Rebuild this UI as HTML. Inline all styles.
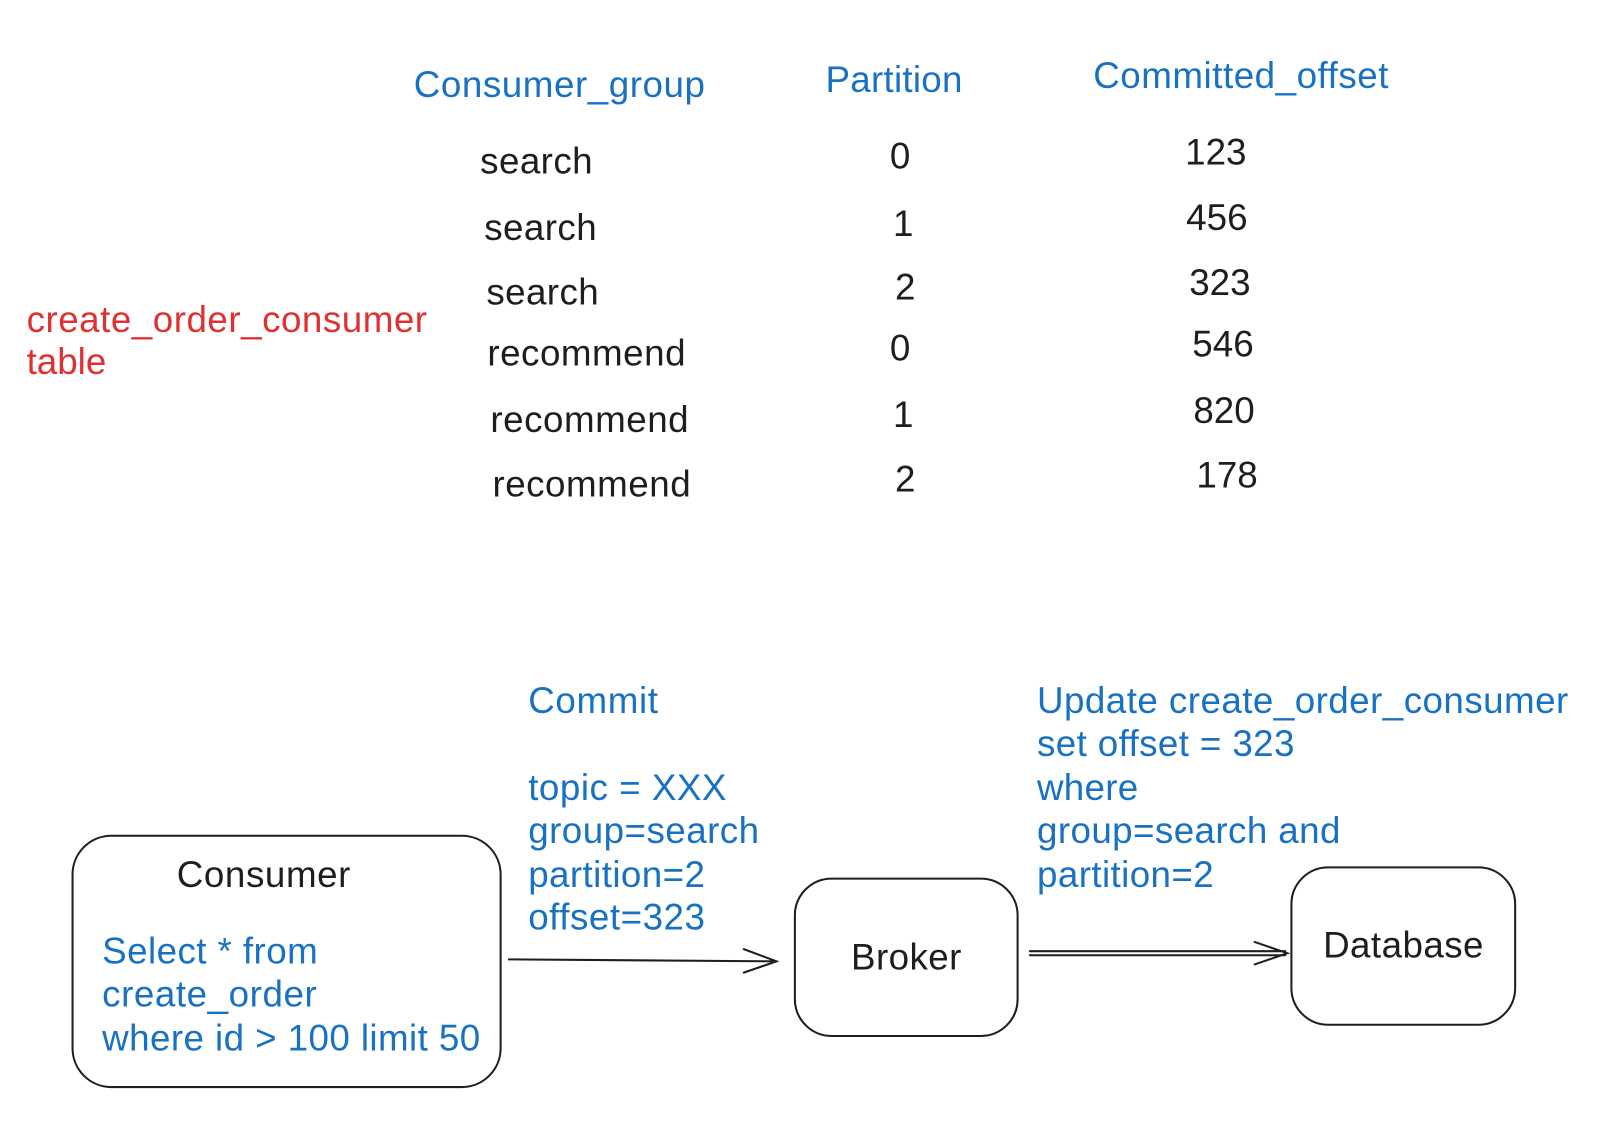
<!DOCTYPE html>
<html><head><meta charset="utf-8"><style>
html,body{margin:0;padding:0;background:#fff;}
svg{display:block}
text{font-family:"Liberation Sans",Arial,sans-serif;font-size:36px;}
.b{fill:#1971c2}.r{fill:#e03131}.k{fill:#1e1e1e}
</style></head><body>
<svg width="1602" height="1132" viewBox="0 0 1568 1108" preserveAspectRatio="none" xmlns="http://www.w3.org/2000/svg">
<text class="b" x="405" y="95" textLength="285">Consumer_group</text>
<text class="b" x="808" y="90" textLength="134">Partition</text>
<text class="b" x="1070" y="86" textLength="289">Committed_offset</text>

<text class="k" x="470" y="170" textLength="110">search</text>
<text class="k" x="474" y="235" textLength="110">search</text>
<text class="k" x="476" y="298" textLength="110">search</text>
<text class="k" x="477" y="358" textLength="194">recommend</text>
<text class="k" x="480" y="423" textLength="194">recommend</text>
<text class="k" x="482" y="486" textLength="194">recommend</text>

<text class="k" x="871" y="165">0</text>
<text class="k" x="874" y="231">1</text>
<text class="k" x="876" y="293">2</text>
<text class="k" x="871" y="353">0</text>
<text class="k" x="874" y="418">1</text>
<text class="k" x="876" y="481">2</text>

<text class="k" x="1160" y="161">123</text>
<text class="k" x="1161" y="225">456</text>
<text class="k" x="1164" y="289">323</text>
<text class="k" x="1167" y="349">546</text>
<text class="k" x="1168" y="414">820</text>
<text class="k" x="1171" y="477">178</text>

<text class="r" x="26" y="325" textLength="392">create_order_consumer</text>
<text class="r" x="26" y="366">table</text>

<text class="b" x="517" y="698" textLength="127">Commit</text>
<text class="b" x="517" y="783" textLength="194">topic = XXX</text>
<text class="b" x="517" y="825" textLength="226">group=search</text>
<text class="b" x="517" y="868" textLength="173">partition=2</text>
<text class="b" x="517" y="910" textLength="173">offset=323</text>

<text class="b" x="1015" y="698" textLength="520">Update create_order_consumer</text>
<text class="b" x="1015" y="740" textLength="252">set offset = 323</text>
<text class="b" x="1015" y="783" textLength="99">where</text>
<text class="b" x="1015" y="825" textLength="297">group=search and</text>
<text class="b" x="1015" y="868" textLength="173">partition=2</text>

<rect x="71" y="818" width="419" height="246" rx="38" fill="none" stroke="#1e1e1e" stroke-width="2"/>
<text class="k" x="173" y="868" textLength="170">Consumer</text>
<text class="b" x="100" y="943" textLength="211">Select * from</text>
<text class="b" x="100" y="985" textLength="210">create_order</text>
<text class="b" x="100" y="1028" textLength="370">where id &gt; 100 limit 50</text>

<rect x="778" y="860" width="218" height="154" rx="36" fill="none" stroke="#1e1e1e" stroke-width="2"/>
<text class="k" x="833" y="949" textLength="108">Broker</text>

<rect x="1264" y="849" width="219" height="154" rx="36" fill="none" stroke="#1e1e1e" stroke-width="2"/>
<text class="k" x="1295" y="937" textLength="157">Database</text>

<g fill="none" stroke="#1e1e1e" stroke-width="2" stroke-linecap="round">
<path d="M498 939 L760 941 M728 929 L760 941 L728 952"/>
<path d="M1008 931 L1258 931 M1008 935 L1258 935 M1228 922 L1260 933 L1228 944"/>
</g>
</svg>
</body></html>
